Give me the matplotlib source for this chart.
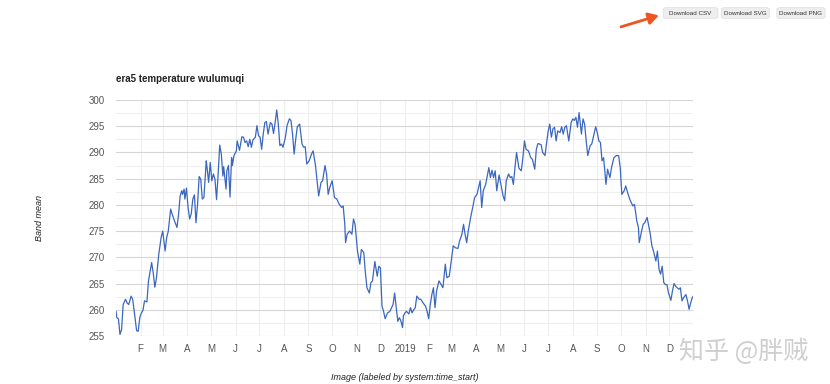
"""ERA5 daily temperature at Urumqi (2018-2019), styled like the GEE chart export."""

import matplotlib

matplotlib.use("Agg")
import matplotlib.pyplot as plt  # noqa: E402
from matplotlib.patches import FancyBboxPatch, FancyArrowPatch  # noqa: E402
import pandas as pd  # noqa: E402

plt.rcParams["font.family"] = ["Liberation Sans", "DejaVu Sans"]

# day offset from 2018-01-01 and band mean (K)
days = [0, 1, 3, 5, 7, 9, 12, 14, 16, 19, 21, 23, 26, 28, 30, 32, 34, 36, 39, 41,
        45, 47, 49, 51, 54, 57, 59, 62, 64, 66, 69, 71, 74, 77, 79, 81, 83, 84, 86, 87,
        89, 91, 93, 95, 97, 99, 101, 103, 105, 107, 109, 111, 114, 115, 117, 119, 121, 123, 125, 127,
        129, 131, 133, 135, 136, 139, 140, 142, 144, 146, 147, 149, 152, 153, 156, 159, 161, 163, 165, 167,
        169, 171, 173, 176, 178, 180, 182, 184, 186, 188, 190, 192, 195, 197, 199, 201, 203, 205, 207, 209,
        211, 214, 216, 219, 221, 223, 225, 227, 229, 232,
        235, 237, 239, 241, 244, 247, 249, 252, 256, 259, 261, 264, 266, 268, 270, 273, 276, 279, 282, 285,
        287, 289, 290, 292, 295, 298, 300, 302, 305, 308, 310, 313, 315, 317, 320, 322, 324, 327, 330, 332,
        334, 336, 338, 340, 343, 346, 350, 352, 354, 356, 358, 360, 362, 363, 365, 367, 370, 372, 374, 376,
        378, 380, 383, 385, 388, 391, 393, 395, 397, 399, 401, 403, 405, 408, 410, 413, 416, 418, 421, 423,
        426, 429, 432, 434, 437, 439, 441, 443, 445, 448, 451, 453, 456, 458, 460, 462, 464, 467, 469, 471,
        473, 475, 477, 479, 481, 484,
        485, 489, 491, 493, 496, 498, 500, 502, 504, 506, 509, 512, 514, 516, 518, 521, 524, 526, 529, 531,
        533, 535, 537, 539, 542, 544, 546, 548, 550, 552, 554, 556, 558, 561, 563, 565, 567, 569, 572, 575,
        577, 579, 581, 583, 585, 588, 590, 592, 594, 596, 599, 601, 603, 606, 608, 610, 612, 614, 616, 619,
        621, 624, 626, 629, 632, 635, 637, 639, 642, 644, 647, 649, 651, 653, 655, 658, 660, 661, 664, 666,
        668, 671, 673, 675, 677, 679, 682, 684, 686, 688, 690, 692, 694, 696, 698, 701, 703, 705, 707, 709,
        711, 713, 715, 717, 720, 722, 724, 726, 728, 730]

temps = [259.7, 258.5, 258.3, 255.3, 256.2, 261.0, 262.0, 261.3, 261.0, 262.6, 262.0, 259.7, 256.0, 255.9, 258.5, 259.4, 259.9, 261.7, 261.5, 265.5,
         269.0, 267.0, 264.3, 266.0, 270.6, 273.8, 275.0, 271.2, 273.8, 275.0, 279.2, 278.2, 276.9, 275.7, 278.2, 281.7, 282.7, 282.0, 283.0, 281.1,
         283.2, 279.5, 277.3, 278.3, 281.1, 281.9, 276.6, 280.1, 285.4, 284.9, 281.1, 281.4, 288.4, 287.1, 284.3, 288.1, 284.6, 285.9, 284.9, 281.0,
         285.9, 291.4, 289.7, 285.5, 287.3, 283.0, 286.5, 287.5, 281.5, 289.0, 287.5, 289.4, 290.3, 292.2, 290.4, 293.0, 292.9, 291.9, 292.2, 291.1,
         292.5, 291.0, 292.4, 292.9, 295.1, 293.2, 292.9, 290.6, 293.5, 295.7, 295.9, 293.5, 295.7, 295.4, 293.6, 295.7, 298.1, 295.4, 291.3, 291.6,
         291.0, 292.9, 295.1, 296.4, 296.1, 293.5, 289.7, 292.5, 294.9, 295.4,
         291.6, 291.0, 291.1, 287.8, 288.4, 289.7, 290.3, 287.5, 281.7, 284.3, 284.6, 287.5, 285.9, 282.0, 283.3, 284.6, 281.4, 281.1, 280.1, 279.5,
         279.8, 276.3, 272.8, 274.4, 275.0, 274.4, 277.3, 276.3, 271.2, 268.7, 271.5, 270.9, 267.1, 264.2, 263.2, 265.2, 265.5, 269.2, 266.4, 268.3,
         268.0, 260.7, 259.7, 258.3, 259.4, 259.7, 261.0, 263.2, 260.4, 257.8, 258.5, 257.8, 256.6, 258.8, 259.4, 259.7, 259.2, 260.4, 259.4, 260.0,
         260.4, 262.6, 262.0, 262.0, 261.3, 260.7, 259.7, 258.3, 261.0, 262.9, 264.2, 260.4, 263.6, 265.5, 265.0, 264.2, 268.7, 266.1, 266.4, 268.7,
         272.2, 271.8, 271.7, 273.1, 274.4, 276.3, 274.4, 272.8, 275.0, 277.6, 279.8, 281.4, 282.0, 283.3, 284.6, 279.5, 282.7, 283.9, 285.5, 287.1,
         285.2, 286.6, 285.2, 286.5, 282.7, 285.7,
         284.9, 281.7, 280.8, 284.6, 285.9, 285.2, 285.4, 283.9, 287.1, 290.0, 287.0, 286.5, 289.0, 292.2, 290.6, 290.3, 289.0, 288.7, 286.8, 290.6,
         291.7, 291.6, 291.5, 290.0, 289.4, 291.9, 294.1, 295.4, 292.9, 294.5, 294.8, 292.2, 294.1, 293.8, 294.9, 293.5, 294.8, 295.1, 292.2, 295.7,
         296.4, 296.1, 296.7, 294.8, 297.6, 293.5, 296.4, 295.4, 292.2, 289.4, 291.3, 291.6, 292.9, 294.9, 293.8, 292.2, 291.9, 288.4, 289.0, 283.9,
         286.8, 285.2, 287.1, 289.0, 289.4, 289.4, 287.1, 282.0, 282.7, 283.6, 282.0, 281.1, 280.4, 279.8, 280.1, 276.9, 275.7, 272.8, 275.0, 276.3,
         276.6, 277.6, 276.0, 274.4, 272.2, 271.2, 269.3, 271.2, 267.7, 266.8, 268.3, 265.2, 264.8, 264.8, 263.2, 261.8, 263.6, 265.0, 264.5, 264.2,
         263.9, 264.2, 261.7, 262.3, 262.9, 261.7, 260.1, 261.3, 262.3, 262.8]

month_labels = ["F", "M", "A", "M", "J", "J", "A", "S", "O", "N", "D", "2019",
                "F", "M", "A", "M", "J", "J", "A", "S", "O", "N", "D"]
buttons = ["Download CSV", "Download SVG", "Download PNG"]

dates = pd.Timestamp("2018-01-01") + pd.to_timedelta(days, unit="D")
month_starts = pd.date_range("2018-02-01", "2019-12-01", freq="MS")

fig = plt.figure(figsize=(8.3, 3.84), dpi=100)
ax = fig.add_axes([0.1398, 0.125, 0.6952, 0.6146])

ax.plot(dates, temps, color="#3b67be", lw=0.9, zorder=3)

ax.set_ylim(255, 300)
ax.set_xlim(pd.Timestamp("2018-01-01"), pd.Timestamp("2019-12-31"))
ax.set_yticks(range(255, 301, 5))
ax.set_yticks([257.5 + 5 * i for i in range(9)], minor=True)
ax.set_xticks(month_starts)
ax.set_xticklabels(month_labels)

ax.grid(axis="y", which="major", color="#d6d6d6", lw=0.8, zorder=0)
ax.grid(axis="y", which="minor", color="#efefef", lw=0.8, zorder=0)
ax.grid(axis="x", which="major", color="#eeeeee", lw=0.8, zorder=0)
for s in ax.spines.values():
    s.set_visible(False)
ax.tick_params(axis="both", which="both", length=0, labelsize=7, colors="#555555")
ax.tick_params(axis="y", pad=8)
ax.tick_params(axis="x", pad=6)

fig.text(0.1398, 0.787, "era5 temperature wulumuqi", fontsize=7, fontweight="bold", color="#222222")
fig.text(0.048, 0.432, "Band mean", fontsize=6.5, style="italic", rotation=90,
         ha="center", va="center", color="#222222")
fig.text(0.488, 0.016, "Image (labeled by system:time_start)", fontsize=6.5, style="italic",
         ha="center", va="center", color="#222222")

# download buttons at the top right
btn_x = [0.799, 0.869, 0.936]
btn_w = [0.066, 0.058, 0.058]
for bx, bw, label in zip(btn_x, btn_w, buttons):
    fig.patches.append(FancyBboxPatch((bx, 0.952), bw, 0.028, boxstyle="round,pad=0,rounding_size=0.004",
                                      transform=fig.transFigure, fc="#eeeeee", ec="#dddddd", lw=0.5))
    fig.text(bx + bw / 2, 0.966, label, fontsize=4.5, ha="center", va="center", color="#333333")

fig.patches.append(FancyArrowPatch((0.745, 0.928), (0.797, 0.962), transform=fig.transFigure,
                                   arrowstyle="-|>,head_length=6,head_width=3.5", color="#ee5522", lw=2))

fig.text(0.818, 0.085, "知乎 @胖贼", fontsize=18, color="#cfcfcf", ha="left", va="center",
         family=["Noto Sans CJK SC", "DejaVu Sans"])

fig.savefig("out.png", dpi=100)
